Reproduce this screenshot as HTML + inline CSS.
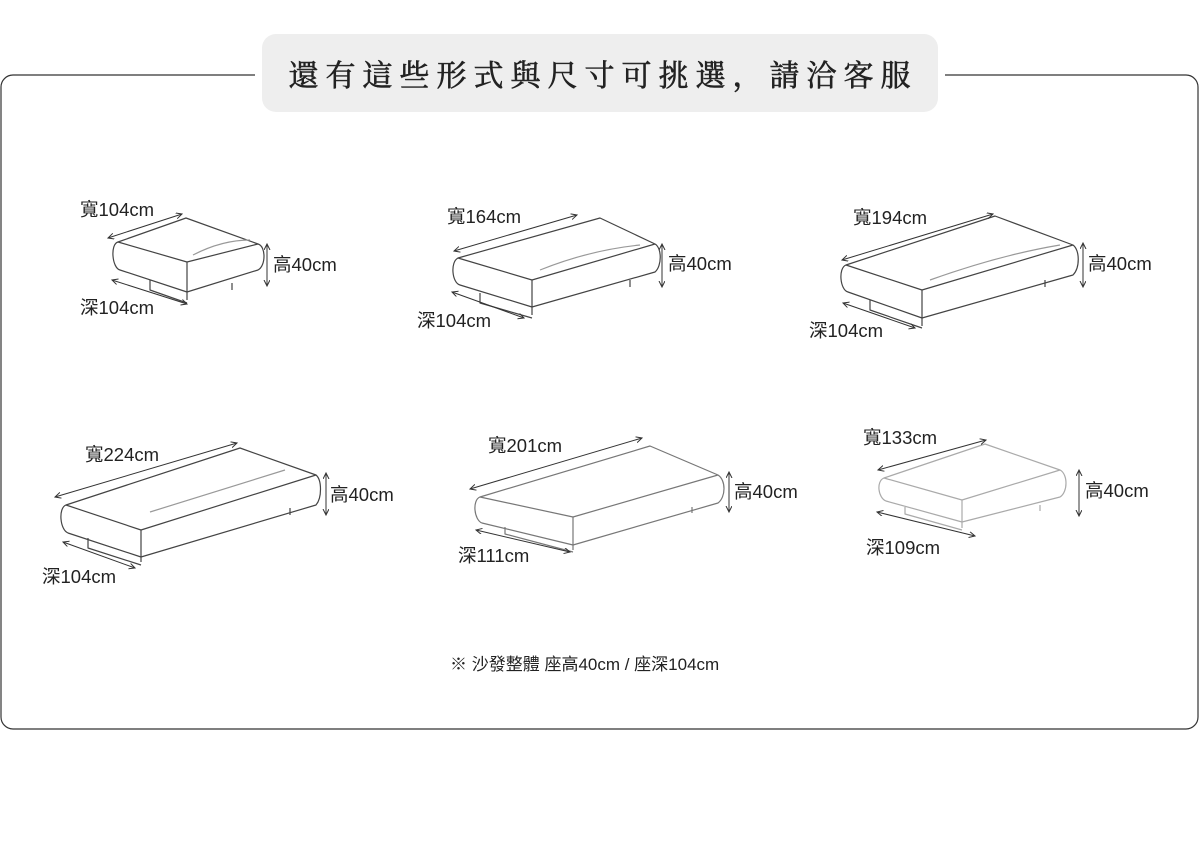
<!DOCTYPE html>
<html><head><meta charset="utf-8"><style>
body{margin:0;width:1200px;height:855px;background:#fff;overflow:hidden}
svg{display:block}
.t{font-family:"Liberation Sans","Noto Sans CJK TC",sans-serif;font-size:18.5px;fill:#222}
.h{font-family:"Liberation Serif","Noto Serif CJK SC",serif;font-size:30px;font-weight:normal;fill:#222;letter-spacing:7px;stroke:#222;stroke-width:0.6}
</style></head><body>
<svg width="1200" height="855" viewBox="0 0 1200 855">
<defs><marker id="a" markerWidth="8" markerHeight="8" refX="6" refY="3" orient="auto-start-reverse"><path d="M0,0 L6,3 L0,6" fill="none" stroke="#333" stroke-width="1"/></marker></defs>
<rect x="1" y="75" width="1197" height="654" rx="12" fill="none" stroke="#333" stroke-width="1.2"/>
<rect x="255" y="60" width="690" height="30" fill="#fff"/>
<rect x="262" y="34" width="676" height="78" rx="14" fill="#eeeeee"/>
<text class="h" x="603" y="86" text-anchor="middle">還有這些形式與尺寸可挑選，請洽客服</text>
<g fill="none" stroke="#444" stroke-width="1.2" stroke-linejoin="round">
<path d="M118,242 L187,262 L258,244 L186,218 Z"/>
<path d="M118,242 C110,244 112,268 120,270 L187,292 L258,270 C266,266 266,246 258,244"/>
<path d="M187,262 L187,300 M150,280 L150,290 L187,303 M232,283 L232,290"/>
<path d="M193,255 Q222,240 250,240" stroke="#999"/>
<path d="M458,258 L532,280 L655,244 L600,218 Z"/>
<path d="M458,258 C450,262 452,283 460,285 L532,307 L655,272 C662,266 662,248 655,244"/>
<path d="M532,280 L532,315 M480,293 L480,303 L532,318 M630,280 L630,287"/>
<path d="M540,270 Q590,250 640,245" stroke="#999"/>
<path d="M846,265 L922,290 L1073,245 L995,216 Z"/>
<path d="M846,265 C838,268 840,290 848,292 L922,318 L1073,275 C1080,268 1080,250 1073,245"/>
<path d="M922,290 L922,326 M870,300 L870,310 L922,328 M1045,280 L1045,287"/>
<path d="M930,280 Q1000,255 1060,245" stroke="#999"/>
<path d="M66,505 L141,530 L316,475 L240,448 Z"/>
<path d="M66,505 C58,508 60,530 68,533 L141,557 L316,505 C322,498 322,480 316,475"/>
<path d="M141,530 L141,562 M88,538 L88,548 L141,565 M290,508 L290,515"/>
<path d="M150,512 L285,470" stroke="#999"/>
<g stroke="#777"><path d="M480,497 L573,517 L718,475 L650,446 Z"/>
<path d="M480,497 C472,500 474,520 482,523 L573,545 L718,503 C726,497 726,480 718,475"/>
<path d="M573,517 L573,550 M505,527 L505,534 L573,552 M692,507 L692,513"/></g>
<g stroke="#aaa"><path d="M884,478 L962,500 L1060,470 L985,444 Z"/>
<path d="M884,478 C876,481 878,498 886,501 L962,522 L1060,497 C1068,492 1068,474 1060,470"/>
<path d="M962,500 L962,528 M905,507 L905,514 L962,530 M1040,505 L1040,511"/></g>
</g>
<g stroke="#333" stroke-width="1" marker-start="url(#a)" marker-end="url(#a)">
<line x1="108" y1="238" x2="182" y2="214"/><line x1="112" y1="280" x2="187" y2="304"/><line x1="267" y1="244" x2="267" y2="286"/>
<line x1="454" y1="251" x2="577" y2="215"/><line x1="452" y1="292" x2="524" y2="318"/><line x1="662" y1="244" x2="662" y2="287"/>
<line x1="842" y1="260" x2="993" y2="214"/><line x1="843" y1="303" x2="915" y2="328"/><line x1="1083" y1="243" x2="1083" y2="287"/>
<line x1="55" y1="497" x2="237" y2="443"/><line x1="63" y1="542" x2="135" y2="568"/><line x1="326" y1="473" x2="326" y2="515"/>
<line x1="470" y1="489" x2="642" y2="438"/><line x1="476" y1="530" x2="570" y2="552"/><line x1="729" y1="472" x2="729" y2="512"/>
<line x1="878" y1="470" x2="986" y2="440"/><line x1="877" y1="512" x2="975" y2="536"/><line x1="1079" y1="470" x2="1079" y2="516"/>
</g>
<g class="t">
<text x="80" y="216">寬104cm</text><text x="80" y="314">深104cm</text><text x="273" y="271">高40cm</text>
<text x="447" y="223">寬164cm</text><text x="417" y="327">深104cm</text><text x="668" y="270">高40cm</text>
<text x="853" y="224">寬194cm</text><text x="809" y="337">深104cm</text><text x="1088" y="270">高40cm</text>
<text x="85" y="461">寬224cm</text><text x="42" y="583">深104cm</text><text x="330" y="501">高40cm</text>
<text x="488" y="452">寬201cm</text><text x="458" y="562">深111cm</text><text x="734" y="498">高40cm</text>
<text x="863" y="444">寬133cm</text><text x="866" y="554">深109cm</text><text x="1085" y="497">高40cm</text>
<text x="450" y="670" style="font-size:17px">※ 沙發整體 座高40cm / 座深104cm</text>
</g>
</svg>
</body></html>
